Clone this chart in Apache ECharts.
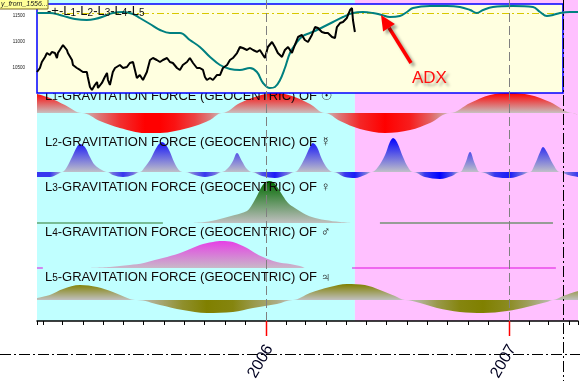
<!DOCTYPE html>
<html><head><meta charset="utf-8">
<script src="https://cdn.jsdelivr.net/npm/echarts@6.0.0/dist/echarts.min.js"></script>
<style>html,body{margin:0;padding:0;background:#fff;overflow:hidden}#chart{width:580px;height:381px}</style>
</head><body><div id="chart"></div>
<script>
// ---------------- DATA (dates are decimal years) ----------------
const rangeStart = 2005.058, rangeEnd = 2007.284;
const cursorDate = 2007.222;
const yearTicks = [2006, 2007];
const yearLabels = ['2006', '2007'];
const priceTicks = ['10500', '11000', '11500'];

const priceDates = [2005.058,2005.070,2005.078,2005.091,2005.099,2005.111,2005.119,2005.132,2005.140,2005.144,2005.152,2005.165,2005.173,2005.181,2005.185,2005.193,2005.202,2005.206,2005.222,2005.235,2005.247,2005.263,2005.267,2005.276,2005.284,2005.296,2005.305,2005.309,2005.325,2005.337,2005.346,2005.350,2005.358,2005.370,2005.379,2005.387,2005.399,2005.412,2005.428,2005.440,2005.453,2005.469,2005.481,2005.494,2005.510,2005.523,2005.535,2005.551,2005.564,2005.576,2005.593,2005.605,2005.617,2005.634,2005.646,2005.658,2005.675,2005.687,2005.700,2005.716,2005.728,2005.741,2005.749,2005.757,2005.770,2005.782,2005.798,2005.811,2005.823,2005.840,2005.852,2005.864,2005.881,2005.893,2005.905,2005.922,2005.934,2005.947,2005.963,2005.975,2005.988,2005.996,2006.008,2006.025,2006.037,2006.049,2006.066,2006.078,2006.091,2006.107,2006.119,2006.132,2006.148,2006.160,2006.173,2006.189,2006.202,2006.214,2006.230,2006.243,2006.255,2006.272,2006.284,2006.292,2006.305,2006.317,2006.333,2006.346,2006.354,2006.358,2006.366];
const priceValues = [10423,10500,10615,10712,10788,10750,10808,10788,10692,10788,10846,10942,10904,10846,10788,10750,10654,10558,10500,10462,10423,10423,10327,10135,10077,10173,10231,10115,10212,10327,10404,10269,10173,10423,10500,10462,10558,10500,10519,10596,10615,10308,10365,10269,10423,10654,10692,10654,10615,10654,10692,10615,10596,10500,10462,10558,10615,10692,10596,10500,10500,10462,10327,10269,10308,10269,10365,10365,10500,10558,10654,10692,10788,10904,10885,10846,10885,10846,10808,10846,10750,10692,10904,11000,10904,10788,10712,10846,10904,10788,10942,11096,11135,11038,11000,11135,11288,11269,11192,11173,11173,11096,11077,11288,11365,11385,11462,11615,11654,11423,11192];

const adxDates = [2005.058,2005.111,2005.152,2005.181,2005.214,2005.263,2005.296,2005.337,2005.370,2005.412,2005.453,2005.481,2005.523,2005.564,2005.605,2005.646,2005.687,2005.728,2005.770,2005.811,2005.852,2005.893,2005.934,2005.963,2005.988,2006.016,2006.037,2006.058,2006.078,2006.099,2006.128,2006.152,2006.181,2006.210,2006.235,2006.276,2006.317,2006.358,2006.399,2006.440,2006.477,2006.510,2006.551,2006.580,2006.605,2006.675,2006.745,2006.798,2006.840,2006.868,2006.893,2006.934,2007.016,2007.099,2007.128,2007.156,2007.181,2007.210,2007.251,2007.284];
const adxValues = [40,40,39,38,37,36.5,37,38.5,40,40.5,39.5,37.5,34.5,31.5,30,30,26.5,23,18,14,12,11.5,12.5,10.5,5,2.5,3,6.5,12.5,20,25.5,28.5,30,31.5,33,35.5,38,40,40.5,40,39,38,38.5,40.5,42.5,43.5,43.5,43,41.5,40,41.5,43,43.5,43,40.5,38.5,39,40,40.5,40.5];
const adxLevel = 40;

const l1Dates = [2005.058,2005.111,2005.173,2005.243,2005.317,2005.399,2005.502,2005.564,2005.626,2005.708,2005.770,2005.819,2005.893,2005.967,2006.037,2006.107,2006.181,2006.243,2006.305,2006.387,2006.490,2006.593,2006.675,2006.757,2006.840,2006.922,2007.004,2007.086,2007.169,2007.263,2007.284];
const l1Values = [19,15,8,0,-8,-15,-20,-20,-18,-13,-7,0,10,17,20,17,9,0,-8,-16,-20,-17,-10,0,10,18,20,18,11,0,-2];

const l2Dates = [2005.058,2005.111,2005.144,2005.161,2005.181,2005.202,2005.222,2005.235,2005.255,2005.276,2005.296,2005.325,2005.346,2005.370,2005.412,2005.453,2005.481,2005.502,2005.523,2005.551,2005.572,2005.597,2005.626,2005.646,2005.667,2005.708,2005.749,2005.790,2005.819,2005.844,2005.864,2005.881,2005.901,2005.922,2005.942,2005.984,2006.037,2006.086,2006.119,2006.140,2006.160,2006.181,2006.193,2006.210,2006.230,2006.255,2006.276,2006.325,2006.366,2006.407,2006.436,2006.461,2006.490,2006.510,2006.523,2006.539,2006.564,2006.584,2006.605,2006.654,2006.716,2006.765,2006.798,2006.819,2006.840,2006.860,2006.881,2006.942,2007.004,2007.053,2007.086,2007.107,2007.128,2007.140,2007.156,2007.181,2007.210,2007.243,2007.284];
const l2Values = [-5,-5,-2,0,5,15,25,28,25,15,7,2,0,-3,-5,-3,0,5,12,25,30,24,8,1,0,-3,-5,-3,0,4,11,19,11,3,0,-4,-6,-3,0,5,14,25,29,25,13,3,0,-5,-6,-3,0,5,17,30,34,30,15,5,0,-5,-7,-4,0,8,20,8,0,-5,-6,-3,0,8,20,25,20,8,0,-3,-5];

const l3Dates = [2005.695,2005.749,2005.811,2005.872,2005.922,2005.942,2005.963,2005.984,2006.000,2006.016,2006.033,2006.049,2006.070,2006.091,2006.119,2006.152,2006.189,2006.243,2006.305,2006.354];
const l3Values = [0,1,4,8,12,18,27,37,41,42,40,35,27,20,15,10,6,3,1,0];
const l3Flat = [[2005.058, 2005.576], [2006.469, 2007.181]];

const l4Dates = [2005.263,2005.358,2005.440,2005.498,2005.543,2005.593,2005.658,2005.728,2005.782,2005.819,2005.864,2005.922,2005.955,2005.988,2006.045,2006.099,2006.140,2006.160];
const l4Values = [0,1,3,5,8,11,16,23,26,27,26,20,15,11,6,4,2,0];
const l4Flat = [[2005.058, 2005.082], [2006.354, 2007.193]];

const l5Dates = [2005.058,2005.111,2005.165,2005.235,2005.305,2005.370,2005.440,2005.469,2005.564,2005.658,2005.757,2005.864,2005.947,2006.045,2006.111,2006.181,2006.263,2006.333,2006.407,2006.469,2006.531,2006.572,2006.634,2006.704,2006.798,2006.893,2006.992,2007.074,2007.156,2007.181,2007.222,2007.284];
const l5Values = [2,5,11,15,13,8,1,0,-5,-10,-13,-12,-8,-4,0,7,13,16,15,10,4,0,-3,-8,-12,-13,-11,-7,-2,0,4,9];

const panelNames = ['L1', 'L2', 'L3', 'L4', 'L5'];
const planetSymbols = ['☉', '☿', '♀', '♂', '♃'];
const panelTitle = '-GRAVITATION FORCE (GEOCENTRIC) OF ';

// ---------------- helpers ----------------
function ts(t) {
  const y = Math.floor(t);
  const a = new Date(y, 0, 1).getTime(), b = new Date(y + 1, 0, 1).getTime();
  return a + (t - y) * (b - a);
}
function pairs(d, v) { return d.map((t, i) => [ts(t), v[i]]); }
function rgb(h) { h = h.replace('#', ''); return [0, 2, 4].map(i => parseInt(h.substr(i, 2), 16)); }
function mix(a, b, f) { const A = rgb(a), B = rgb(b); return 'rgb(' + A.map((x, i) => Math.round(x + (B[i] - x) * f)).join(',') + ')'; }

const FONT = '"Liberation Sans", Arial, "DejaVu Sans", sans-serif';
const T0 = ts(rangeStart), T1 = ts(rangeEnd);
const pinkStart = priceDates[priceDates.length - 1];

const panels = [
  { dates: l1Dates, values: l1Values, flat: null, color: '#FF0000', gray: '#C8C0C0', top: 93, height: 40, min: -20, max: 20, labelY: 96 },
  { dates: l2Dates, values: l2Values, flat: null, color: '#0000FF', gray: '#C0C0C8', top: 132, height: 48, min: -8, max: 40, labelY: 142 },
  { dates: l3Dates, values: l3Values, flat: l3Flat, flatColor: '#2E7A2E', color: '#006A00', gray: '#C0C0C0', top: 180, height: 46, min: -3, max: 43, labelY: 187 },
  { dates: l4Dates, values: l4Values, flat: l4Flat, flatColor: '#E010E0', color: '#E640E6', gray: '#C8B8C8', top: 226, height: 44, min: -2, max: 42, labelY: 232 },
  { dates: l5Dates, values: l5Values, flat: null, color: '#808000', gray: '#C0C0C0', top: 270, height: 50, min: -20, max: 30, labelY: 277 }
];

const chart = echarts.init(document.getElementById('chart'), null, { renderer: 'canvas' });

const grids = [
  { left: 37, right: 2, top: 0, height: 321 },
  { left: 37, right: 2, top: 4, height: 89 }
].concat(panels.map(p => ({ left: 37, right: 2, top: p.top, height: p.height })));

const hiddenX = gi => ({ gridIndex: gi, type: 'time', min: T0, max: T1, show: false });
const xAxes = [
  {
    gridIndex: 0, type: 'time', min: T0, max: T1, splitNumber: 27,
    minInterval: 28 * 864e5, maxInterval: 31 * 864e5,
    axisLine: { show: true, lineStyle: { color: '#000', width: 1.5 } },
    axisTick: { show: true, length: 4, lineStyle: { color: '#000', width: 1 } },
    axisLabel: { show: false }, splitLine: { show: false }
  },
  hiddenX(1)
].concat(panels.map((p, i) => hiddenX(i + 2)));

const yAxes = [
  { gridIndex: 0, type: 'value', min: 0, max: 1, show: false },
  {
    gridIndex: 1, type: 'value', min: 10019, max: 11731, splitNumber: 3,
    axisLine: { show: false }, axisTick: { show: false }, splitLine: { show: false },
    axisLabel: {
      fontSize: 4.5, color: '#222', margin: 12, fontFamily: FONT,
      showMinLabel: false, showMaxLabel: false,
      formatter: v => priceTicks.indexOf(String(v)) >= 0 ? String(v) : ''
    }
  },
  { gridIndex: 1, type: 'value', min: 0, max: 44.5, show: false }
].concat(panels.map((p, i) => ({ gridIndex: i + 2, type: 'value', min: p.min, max: p.max, show: false })));

const series = [];
// background bands (cyan = history, pink = after last price)
series.push({
  type: 'line', xAxisIndex: 0, yAxisIndex: 0, data: [], silent: true, z: 0,
  markArea: {
    z: 0, silent: true, label: { show: false },
    data: [
      [{ xAxis: T0, itemStyle: { color: '#C0FFFF' } }, { xAxis: ts(pinkStart) }],
      [{ xAxis: ts(pinkStart), itemStyle: { color: '#FFC0FF' } }, { xAxis: T1 }]
    ]
  }
});

panels.forEach((p, i) => {
  const xi = i + 2, yi = i + 3;
  const pos = p.values.map(v => Math.max(v, 0));
  series.push({
    type: 'line', xAxisIndex: xi, yAxisIndex: yi, data: pairs(p.dates, pos),
    smooth: 0.35, showSymbol: false, silent: true, z: 2, color: p.color,
    lineStyle: { width: 0 },
    areaStyle: {
      opacity: 1,
      color: new echarts.graphic.LinearGradient(0, 0, 0, 1, [
        { offset: 0, color: p.color }, { offset: 1, color: p.gray }])
    }
  });
  const negMax = Math.max(0, ...p.values.map(v => -v));
  if (negMax > 0) {
    const neg = p.values.map(v => Math.min(v, 0));
    const t0 = ts(p.dates[0]), t1 = ts(p.dates[p.dates.length - 1]);
    const stops = p.dates.map((d, k) => ({
      offset: (ts(d) - t0) / (t1 - t0),
      color: mix(p.gray, p.color, Math.min(1, -neg[k] / negMax))
    }));
    series.push({
      type: 'line', xAxisIndex: xi, yAxisIndex: yi, data: pairs(p.dates, neg),
      smooth: 0.35, showSymbol: false, silent: true, z: 2, color: p.color,
      lineStyle: { width: 0 },
      areaStyle: { opacity: 1, color: new echarts.graphic.LinearGradient(0, 0, 1, 0, stops) }
    });
  }
  if (p.flat) {
    p.flat.forEach(seg => {
      series.push({
        type: 'line', xAxisIndex: xi, yAxisIndex: yi,
        data: [[ts(seg[0]), 0], [ts(seg[1]), 0]],
        showSymbol: false, silent: true, z: 2,
        lineStyle: { color: p.flatColor, width: 1.2 }
      });
    });
  }
});

// price panel (yellow box up to the cursor)
series.push({
  type: 'line', xAxisIndex: 1, yAxisIndex: 1, data: [], silent: true, z: 4,
  markArea: {
    z: 4, silent: true, label: { show: false },
    itemStyle: { color: '#FFFFE0', borderColor: '#0000FF', borderWidth: 1.5 },
    data: [[{ xAxis: T0 }, { xAxis: ts(cursorDate) }]]
  }
});
series.push({
  type: 'line', xAxisIndex: 1, yAxisIndex: 2, data: pairs(adxDates, adxValues),
  smooth: 0.4, showSymbol: false, silent: true, z: 6,
  lineStyle: { color: '#008080', width: 2 },
  markLine: {
    z: 5, silent: true, symbol: 'none', label: { show: false },
    lineStyle: { color: '#D8C800', type: [7, 3, 2, 3], width: 1 },
    data: [[{ coord: [T0, adxLevel] }, { coord: [ts(cursorDate), adxLevel] }]]
  }
});
series.push({
  type: 'line', xAxisIndex: 1, yAxisIndex: 1, data: pairs(priceDates, priceValues),
  showSymbol: false, silent: true, z: 6,
  lineStyle: { color: '#000', width: 2 }
});

// year grid lines, red year ticks and rotated year labels
series.push({
  type: 'custom', xAxisIndex: 0, yAxisIndex: 0, z: 7, silent: true, clip: false,
  data: yearTicks.map(y => [ts(y), 0]),
  encode: { x: 0, y: 1 },
  renderItem: function (params, api) {
    const cs = params.coordSys;
    const x = Math.round(api.coord([api.value(0), 0])[0]) + 0.5;
    const bottom = cs.y + cs.height;
    return {
      type: 'group', children: [
        { type: 'line', shape: { x1: x, y1: cs.y, x2: x, y2: bottom }, style: { stroke: '#808080', lineWidth: 1, lineDash: [9, 4] } },
        { type: 'line', shape: { x1: x, y1: bottom, x2: x, y2: bottom + 15 }, style: { stroke: '#FF0000', lineWidth: 1.5 } },
        {
          type: 'text', x: x + 3, y: bottom + 25, rotation: Math.PI / 3,
          style: { text: yearLabels[params.dataIndex], fontSize: 16, fontFamily: FONT, fill: '#000020', align: 'right', verticalAlign: 'middle' }
        }
      ]
    };
  }
});

chart.setOption({
  animation: false,
  backgroundColor: '#fff',
  grid: grids, xAxis: xAxes, yAxis: yAxes, series: series
});

// ---------------- annotations / labels ----------------
const cx = Math.round(chart.convertToPixel({ xAxisIndex: 0 }, ts(cursorDate))) + 0.5;
const graphics = [];

panels.forEach((p, i) => {
  graphics.push({
    type: 'text', x: 45, y: p.labelY, z: i === 0 ? 3 : 6, silent: true,
    style: {
      text: '{a|L}{b|' + panelNames[i].slice(1) + '}{a|' + panelTitle + planetSymbols[i] + '}',
      verticalAlign: 'middle',
      rich: {
        a: { fontSize: 13, fontFamily: FONT, fill: '#100808' },
        b: { fontSize: 10, fontFamily: FONT, fill: '#100808', verticalAlign: 'bottom' }
      }
    }
  });
});

graphics.push({
  type: 'text', x: 47, y: 11.5, z: 7, silent: true,
  style: {
    text: '{a|-+-L}{b|1}{a|-L}{b|2}{a|-L}{b|3}{a|-L}{b|4}{a|-L}{b|5}',
    verticalAlign: 'middle',
    rich: {
      a: { fontSize: 13, fontFamily: FONT, fill: '#101010' },
      b: { fontSize: 10, fontFamily: FONT, fill: '#101010', verticalAlign: 'bottom' }
    }
  }
});

// top-left tag
graphics.push({ type: 'rect', z: 9, silent: true, shape: { x: -2, y: -2, width: 50, height: 11 }, style: { fill: '#FFFF99', stroke: '#7A6A20', lineWidth: 1 } });
graphics.push({ type: 'text', z: 9, silent: true, x: 1, y: 4.5, style: { text: 'y_from_1556...', fontSize: 7, fontStyle: 'italic', fontFamily: FONT, fill: '#202020', verticalAlign: 'middle' } });

// crosshair lines
graphics.push({ type: 'line', z: 8, silent: true, shape: { x1: cx, y1: 0, x2: cx, y2: 381 }, style: { stroke: '#000', lineWidth: 1, lineDash: [11, 3, 2, 3] } });
graphics.push({ type: 'line', z: 8, silent: true, shape: { x1: 0, y1: 354.5, x2: 580, y2: 354.5 }, style: { stroke: '#000', lineWidth: 1, lineDash: [11, 3, 2, 3] } });

// ADX annotation
const shadow = { shadowColor: 'rgba(0,0,0,0.35)', shadowBlur: 3, shadowOffsetX: 3, shadowOffsetY: 3 };
graphics.push({ type: 'line', z: 9, silent: true, shape: { x1: 411, y1: 63, x2: 389, y2: 27.7 }, style: Object.assign({ stroke: '#FF0000', lineWidth: 3.5 }, shadow) });
graphics.push({ type: 'polygon', z: 9, silent: true, shape: { points: [[381, 15], [394.9, 24.0], [383.1, 31.4]] }, style: Object.assign({ fill: '#FF0000' }, shadow) });
graphics.push({
  type: 'text', z: 9, silent: true, x: 412, y: 78.5,
  style: { text: 'ADX', fontSize: 17, fontFamily: FONT, fill: '#FF1010', verticalAlign: 'middle', textShadowColor: 'rgba(0,0,0,0.35)', textShadowBlur: 3, textShadowOffsetX: 3, textShadowOffsetY: 3 }
});

chart.setOption({ graphic: graphics });
</script>
</body></html>
